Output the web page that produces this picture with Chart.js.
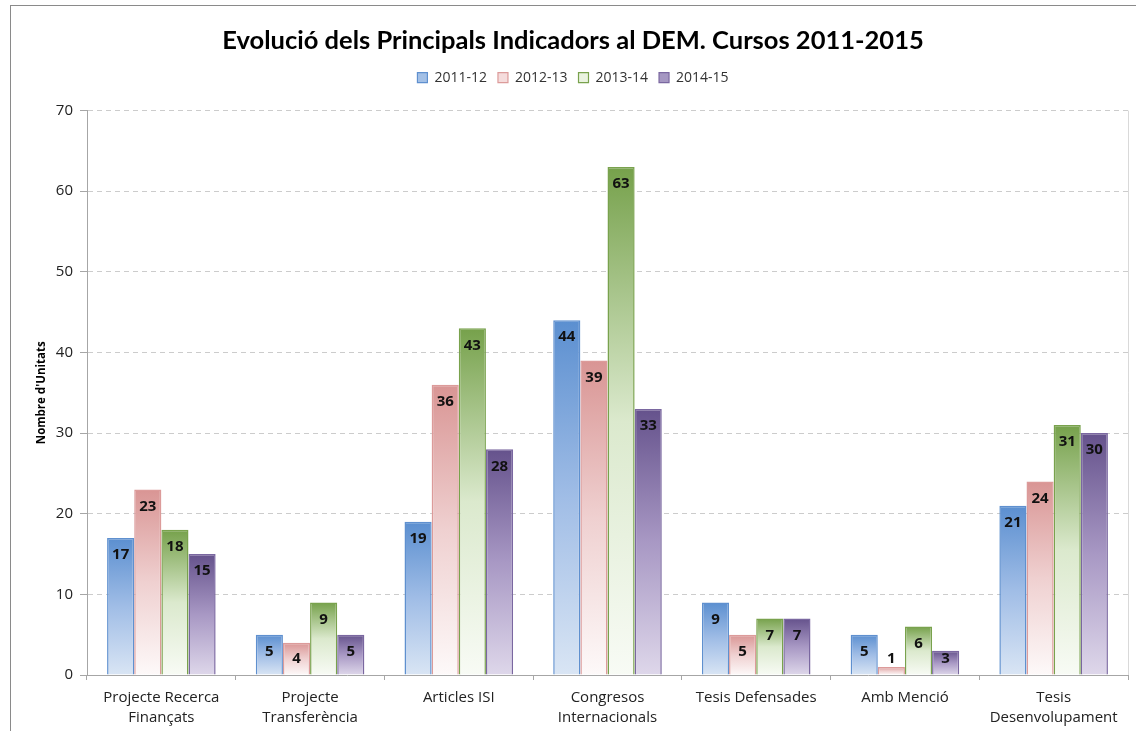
<!DOCTYPE html>
<html>
<head>
<meta charset="utf-8">
<script src="https://cdn.jsdelivr.net/npm/chart.js@4.4.1/dist/chart.umd.min.js"></script>
<style>
  html, body { margin: 0; padding: 0; background: #ffffff; }
  body { width: 1136px; height: 731px; position: relative; overflow: hidden; }
  #frame { position: absolute; left: 10px; top: 5px; width: 1200px; height: 800px; border: 1px solid #8a8a8a; box-sizing: border-box; }
  #wrap { position: absolute; left: 0; top: 0; width: 1136px; height: 731px; }
</style>
</head>
<body>
<div id="frame"></div>
<div id="wrap"><canvas id="c" width="1136" height="731"></canvas></div>
<script>
const TITLE = "Evolució dels Principals Indicadors al DEM. Cursos 2011-2015";
const Y_TITLE = "Nombre d'Unitats";
const categories = [
  ["Projecte Recerca", "Finançats"],
  ["Projecte", "Transferència"],
  "Articles ISI",
  ["Congresos", "Internacionals"],
  "Tesis Defensades",
  "Amb Menció",
  ["Tesis", "Desenvolupament"]
];
const seriesNames = ["2011-12", "2012-13", "2013-14", "2014-15"];
const s2011 = [17, 5, 19, 44, 9, 5, 21];
const s2012 = [23, 4, 36, 39, 5, 1, 24];
const s2013 = [18, 9, 43, 63, 7, 6, 31];
const s2014 = [15, 5, 28, 33, 7, 3, 30];
const yTicks = [0, 10, 20, 30, 40, 50, 60, 70];

const palettes = [
  { top: "#5b8fd0", mid: "#a0bde6", bottom: "#d9e5f4", border: "#5f90cf", legend: "#a3c0e6" },
  { top: "#d99594", mid: "#efd0d0", bottom: "#fdf9f9", border: "#dc9b9a", legend: "#f5dcdc" },
  { top: "#76a14b", mid: "#dbe9cd", bottom: "#f8fbf5", border: "#79a24d", legend: "#eaf3e0" },
  { top: "#65528c", mid: "#a898c4", bottom: "#ded7ea", border: "#7a67a0", legend: "#a597c2" }
];

function gradientFor(idx) {
  return function (ctx) {
    const p = palettes[idx];
    if (ctx.type !== 'data') return p.legend;
    const chart = ctx.chart;
    const y = chart.scales && chart.scales.y;
    if (!y || !chart.chartArea) return p.mid;
    const v = ctx.raw;
    const top = y.getPixelForValue(v);
    const base = y.getPixelForValue(0);
    if (!isFinite(top) || !isFinite(base) || base - top < 1) return p.mid;
    const g = chart.ctx.createLinearGradient(0, top, 0, base);
    g.addColorStop(0, p.top);
    g.addColorStop(0.5, p.mid);
    g.addColorStop(1, p.bottom);
    return g;
  };
}

const allSeries = [s2011, s2012, s2013, s2014];
const datasets = allSeries.map((data, i) => ({
  label: seriesNames[i],
  data: data,
  backgroundColor: gradientFor(i),
  borderColor: palettes[i].border,
  borderWidth: 1.5,
  borderSkipped: 'bottom',
  categoryPercentage: 0.73,
  barPercentage: 1.0
}));

const valueLabels = {
  id: 'valueLabels',
  afterDatasetsDraw(chart) {
    const ctx = chart.ctx;
    const y = chart.scales.y;
    const base = y.getPixelForValue(0);
    ctx.save();
    ctx.font = "bold 15px 'Open Sans'";
    ctx.fillStyle = "#111111";
    ctx.textAlign = "center";
    ctx.textBaseline = "middle";
    chart.data.datasets.forEach((ds, di) => {
      const meta = chart.getDatasetMeta(di);
      meta.data.forEach((bar, i) => {
        const ty = Math.min(bar.y + 17, base - 16);
        ctx.fillText(String(ds.data[i]), bar.x, ty);
      });
    });
    ctx.restore();
  }
};

const plotBorder = {
  id: 'plotBorder',
  beforeDatasetsDraw(chart) {
    const a = chart.chartArea;
    const ctx = chart.ctx;
    ctx.save();
    ctx.strokeStyle = "#d9d9d9";
    ctx.lineWidth = 1;
    ctx.beginPath();
    ctx.moveTo(Math.round(a.right) + 0.5, a.top);
    ctx.lineTo(Math.round(a.right) + 0.5, a.bottom);
    ctx.stroke();
    ctx.restore();
  }
};

const legendSpace = {
  id: 'legendSpace',
  beforeInit(chart) {
    const lg = chart.legend;
    if (!lg) return;
    const origFit = lg.fit;
    lg.fit = function () {
      origFit.call(this);
      this.height += 16;
    };
  }
};

new Chart(document.getElementById('c'), {
  type: 'bar',
  data: { labels: categories, datasets: datasets },
  options: {
    responsive: false,
    animation: false,
    devicePixelRatio: 1,
    layout: { padding: { left: 18, right: 8, top: 0, bottom: 0 } },
    plugins: {
      title: {
        display: true,
        text: TITLE,
        color: "#000000",
        font: { family: "Lato", size: 25.5, weight: "bold" },
        padding: { top: 25, bottom: 4 }
      },
      legend: {
        display: true,
        position: 'top',
        labels: {
          boxWidth: 10,
          boxHeight: 10,
          padding: 11,
          color: "#333333",
          font: { family: "Open Sans", size: 14 },
          generateLabels(chart) {
            return chart.data.datasets.map((ds, i) => ({
              text: ds.label,
              fillStyle: palettes[i].legend,
              strokeStyle: palettes[i].border,
              lineWidth: 1.2,
              fontColor: "#333333",
              hidden: !chart.isDatasetVisible(i),
              datasetIndex: i
            }));
          }
        }
      },
      tooltip: { enabled: false }
    },
    scales: {
      x: {
        afterFit(scale) { scale.height = 56; },
        grid: {
          display: true,
          drawOnChartArea: false,
          offset: true,
          color: "#a6a6a6",
          tickLength: 5
        },
        border: { display: true, color: "#a6a6a6", width: 1 },
        ticks: {
          color: "#222222",
          font: { family: "Open Sans", size: 15, lineHeight: 1.38 },
          padding: 7,
          maxRotation: 0,
          autoSkip: false
        }
      },
      y: {
        min: 0,
        max: 70,
        afterFit(scale) { scale.width = 69; },
        afterBuildTicks(scale) { scale.ticks = yTicks.map(v => ({ value: v })); },
        grid: {
          color: "#cccccc",
          tickColor: "#a6a6a6",
          tickBorderDash: [],
          tickLength: 7,
          lineWidth: 1
        },
        border: { display: true, color: "#a6a6a6", width: 1, dash: [5, 4] },
        ticks: {
          color: "#222222",
          font: { family: "Open Sans", size: 15 },
          padding: 7
        },
        title: {
          display: true,
          text: Y_TITLE,
          color: "#000000",
          font: { family: "Open Sans", size: 11.5, weight: "bold" },
          padding: { top: 17, bottom: 0 }
        }
      }
    }
  },
  plugins: [valueLabels, plotBorder, legendSpace]
});
</script>
</body>
</html>
